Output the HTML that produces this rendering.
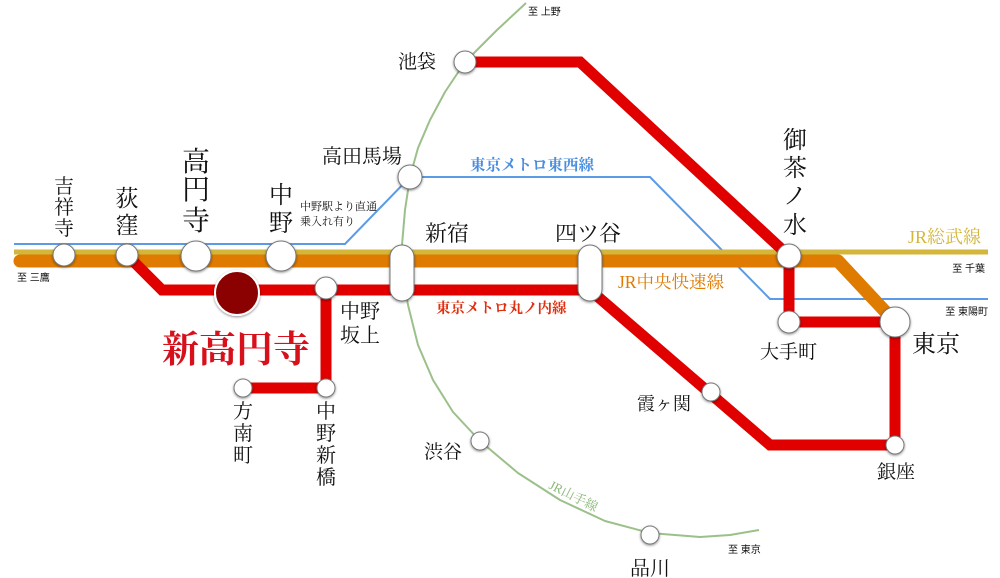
<!DOCTYPE html>
<html><head><meta charset="utf-8"><style>
html,body{margin:0;padding:0;background:#fff;}
svg{display:block;}
text{font-family:"Liberation Serif","Noto Serif CJK JP","Noto Serif CJK SC",serif;fill:#111;}
.s{font-family:"Liberation Sans","Noto Sans CJK JP",sans-serif;}
</style></head><body>
<svg width="1000" height="578" viewBox="0 0 1000 578" xmlns="http://www.w3.org/2000/svg">
<defs><filter id="sh" x="-30%" y="-30%" width="160%" height="160%"><feDropShadow dx="0" dy="1" stdDeviation="1.2" flood-color="#000" flood-opacity="0.45"/></filter></defs>
<!-- Yamanote arc -->
<polyline points="526,3 497,30 465,62 445,92 430,120 418,148 410,177 405,210 402,245 403,275 408,305 418,345 433,380 453,412 480,441 518,473 560,500 605,521 650,533 700,537 730,535 759,530" fill="none" stroke="#9cc08a" stroke-width="2" stroke-linejoin="round"/>
<!-- Tozai blue -->
<polyline points="14,244 345,244 410,177 650,177 770,299 988,299" fill="none" stroke="#5a9ae6" stroke-width="2"/>
<!-- Sobu yellow -->
<line x1="14" y1="252" x2="988" y2="252" stroke="#d4b73a" stroke-width="5"/>
<!-- Chuo orange -->
<polyline points="20,261 838,261 895,322" fill="none" stroke="#de7b00" stroke-width="13" stroke-linecap="round" stroke-linejoin="round"/>
<!-- Marunouchi red -->
<polyline points="127,255 162,290 590,290 770,445 895,445 895,322 789,322 789,256 580,62 465,62" fill="none" stroke="#e00000" stroke-width="11" stroke-linejoin="miter"/>
<polyline points="326,290 326,388 243,388" fill="none" stroke="#e00000" stroke-width="11"/>
<!-- stations -->
<g fill="#fff" stroke="#777" stroke-width="1" filter="url(#sh)">
<circle cx="64" cy="255" r="11"/>
<circle cx="127" cy="255" r="11"/>
<circle cx="196" cy="256" r="15"/>
<circle cx="281" cy="256" r="15"/>
<circle cx="326" cy="288" r="11"/>
<circle cx="243" cy="388" r="9"/>
<circle cx="326" cy="388" r="9"/>
<circle cx="410" cy="177" r="12"/>
<circle cx="465" cy="62" r="11"/>
<circle cx="789" cy="256" r="12"/>
<circle cx="789" cy="322" r="11"/>
<circle cx="895" cy="322" r="15"/>
<circle cx="895" cy="445" r="9"/>
<circle cx="711" cy="392" r="9"/>
<circle cx="480" cy="441" r="9"/>
<circle cx="650" cy="535" r="9"/>
<rect x="390" y="245" width="24" height="56" rx="12"/>
<rect x="578" y="245" width="24" height="56" rx="12"/>
</g>
<circle cx="237" cy="293" r="22" fill="#8b0000" stroke="#fff" stroke-width="2" filter="url(#sh)"/>
<!-- labels -->
<g font-size="20" text-anchor="middle">
<text x="64" y="193">吉</text><text x="64" y="214">祥</text><text x="64" y="235">寺</text>
</g>
<g font-size="23" text-anchor="middle">
<text x="127" y="206">荻</text><text x="127" y="233">窪</text>
</g>
<g font-size="28" text-anchor="middle">
<text x="196" y="171">高</text><text x="196" y="199">円</text><text x="196" y="230">寺</text>
</g>
<g font-size="24" text-anchor="middle">
<text x="281" y="203">中</text><text x="281" y="231">野</text>
</g>
<text x="300" y="210" font-size="11">中野駅より直通</text>
<text x="300" y="225" font-size="11">乗入れ有り</text>
<text x="322" y="163" font-size="20">高田馬場</text>
<text x="398" y="68" font-size="19">池袋</text>
<text x="470" y="170" font-size="15.5" style="fill:#4a8ee0;font-weight:bold">東京メトロ東西線</text>
<text x="425" y="241" font-size="22">新宿</text>
<text x="555" y="241" font-size="22">四ツ谷</text>
<g font-size="24" text-anchor="middle">
<text x="795" y="148">御</text><text x="795" y="176">茶</text><text x="795" y="204">ノ</text><text x="795" y="233">水</text>
</g>
<text x="908" y="243" font-size="18" style="fill:#d4b73a">JR総武線</text>
<text x="985" y="272" font-size="10" text-anchor="end" class="s">至 千葉</text>
<text x="988" y="315" font-size="10" text-anchor="end" class="s">至 東陽町</text>
<text x="618" y="288" font-size="17.5" style="fill:#de7b00">JR中央快速線</text>
<text x="436" y="313" font-size="14.5" style="fill:#e03010;font-weight:bold">東京メトロ丸ノ内線</text>
<text x="17" y="281" font-size="10" class="s">至 三鷹</text>
<text x="340" y="318" font-size="20">中野</text>
<text x="340" y="342" font-size="20">坂上</text>
<text x="162" y="362" font-size="37" style="fill:#d8101c;font-weight:bold">新高円寺</text>
<g font-size="20" text-anchor="middle">
<text x="243" y="418">方</text><text x="243" y="440">南</text><text x="243" y="462">町</text>
<text x="326" y="418">中</text><text x="326" y="440">野</text><text x="326" y="462">新</text><text x="326" y="484">橋</text>
</g>
<text x="637" y="410" font-size="18">霞ヶ関</text>
<text x="760" y="358" font-size="19">大手町</text>
<text x="912" y="352" font-size="24">東京</text>
<text x="877" y="478" font-size="19">銀座</text>
<text x="424" y="458" font-size="19">渋谷</text>
<text x="630" y="575" font-size="20">品川</text>
<text x="0" y="0" font-size="13" transform="translate(548,488) rotate(27)" style="fill:#8ab878">JR山手線</text>
<text x="528" y="15" font-size="10" class="s">至 上野</text>
<text x="728" y="553" font-size="10" class="s">至 東京</text>
</svg>
</body></html>
